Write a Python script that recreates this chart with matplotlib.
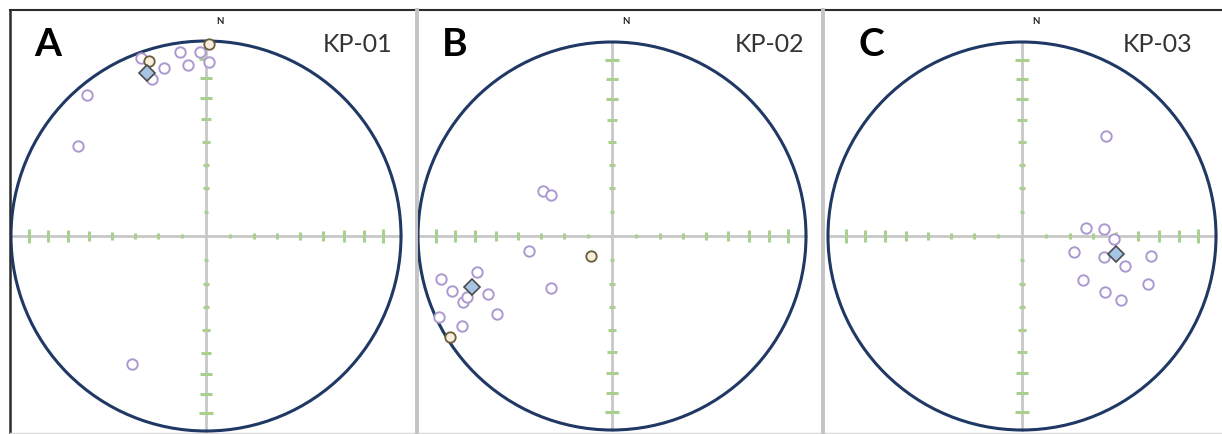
import numpy as np
import matplotlib.pyplot as plt
from matplotlib.patches import Circle

# --------------------------------------------------
# poles (trend / plunge, degrees)
# --------------------------------------------------
a_trend = [352, 358, 354, 1, 346, 340, 341, 320, 305, 210]
a_plunge = [5, 6, 13, 12, 12, 3, 16, 6, 21, 25]
a_other_trend = [1, 342]
a_other_plunge = [2, 6]
a_mean = (340, 12)

b_trend = [303, 304, 260, 256, 255, 251, 246, 245, 230, 236, 245, 239, 247]
b_plunge = [55, 59, 54, 10, 29, 14, 17, 30, 56, 29, 2, 11, 20]
b_other_trend = [227, 238]
b_other_plunge = [78, 2]
b_mean = (250, 24)

c_trend = [83, 85, 92, 107, 104, 106, 99, 126, 111, 124, 123, 40]
c_plunge = [63, 55, 51, 67, 54, 44, 33, 58, 31, 47, 39, 33]
c_other_trend = []
c_other_plunge = []
c_mean = (101, 49)

letters = ["A", "B", "C"]
sites = ["KP-01", "KP-02", "KP-03"]


def project(trend, plunge):
    # lower hemisphere equal-area (Schmidt) net
    t = np.radians(np.asarray(trend, dtype=float))
    p = np.radians(np.asarray(plunge, dtype=float))
    r = np.sqrt(2) * np.sin((np.pi / 2 - p) / 2)
    return r * np.sin(t), r * np.cos(t)


W, H = 1222, 435
fig = plt.figure(figsize=(W / 100, H / 100), dpi=100)
plt.rcParams["font.family"] = ["Lato", "DejaVu Sans"]

# background axes in pixel coords for frame + labels
bg = fig.add_axes([0, 0, 1, 1])
bg.set_xlim(0, W)
bg.set_ylim(H, 0)
bg.axis("off")
bg.plot([10, W], [11, 11], color="#2b2b2b", lw=1.5)
bg.plot([10, 10], [11, H], color="#2b2b2b", lw=1.8)
bg.plot([10, W], [433.5, 433.5], color="#d9d9d9", lw=1)
for sx in (416.5, 822.5):
    bg.plot([sx, sx], [11, H], color="#c4c4c4", lw=2.8)

# panel boxes: (left px, right px, centre x px, radius px)
boxes = [(11, 414, 206, 195), (418, 821, 612, 194), (825, 1222, 1022, 194)]
cy = 237
panels = [
    (a_trend, a_plunge, a_other_trend, a_other_plunge, a_mean),
    (b_trend, b_plunge, b_other_trend, b_other_plunge, b_mean),
    (c_trend, c_plunge, c_other_trend, c_other_plunge, c_mean),
]
label_x = [(48, 358), (455, 770), (871, 1158)]

for i, (x0, x1, cx, R) in enumerate(boxes):
    ax = fig.add_axes([x0 / W, 0, (x1 - x0) / W, (H - 13) / H])
    ax.set_xlim((x0 - cx) / R, (x1 - cx) / R)
    ax.set_ylim((cy - H) / R, (cy - 13) / R)
    ax.axis("off")

    # crosshair + graduation ticks
    ax.plot([-1, 1], [0, 0], color="#c8c8c8", lw=2, zorder=1)
    ax.plot([0, 0], [-1, 1], color="#c8c8c8", lw=2, zorder=1)
    for k, d in enumerate(range(10, 90, 10)):
        r = np.sqrt(2) * np.sin(np.radians(d) / 2)
        h = (2 + k * 5 / 7) / R
        for s in (-1, 1):
            ax.plot([s * r, s * r], [-h, h], color="#a9d08e", lw=2.2,
                    solid_capstyle="butt", zorder=2)
            ax.plot([-h, h], [s * r, s * r], color="#a9d08e", lw=2.2,
                    solid_capstyle="butt", zorder=2)

    ax.add_patch(Circle((0, 0), 1, fill=False, ec="#1f3864", lw=2.2, zorder=3))

    tr, pl, otr, opl, mean = panels[i]
    x, y = project(tr, pl)
    ax.plot(x, y, "o", ms=7.5, mfc="white", mec="#ab99cf", mew=1.4, zorder=4)
    if otr:
        ox, oy = project(otr, opl)
        ax.plot(ox, oy, "o", ms=7.5, mfc="#f7eedd", mec="#6b5d3a", mew=1.3, zorder=4)
    mx, my = project([mean[0]], [mean[1]])
    ax.plot(mx, my, "D", ms=8, mfc="#a6c4e3", mec="#4d4d4d", mew=1.2, zorder=5)

    lx, kx = label_x[i]
    bg.text(lx, 45, letters[i], fontsize=28, fontweight="bold",
            ha="center", va="center", color="black")
    bg.text(kx, 45, sites[i], fontsize=18, ha="center", va="center",
            color="#333333")
    bg.text(cx + 14, 22, "N", fontsize=7, fontweight="bold",
            ha="center", va="center", color="#222222")

fig.savefig("out.png", dpi=100)
